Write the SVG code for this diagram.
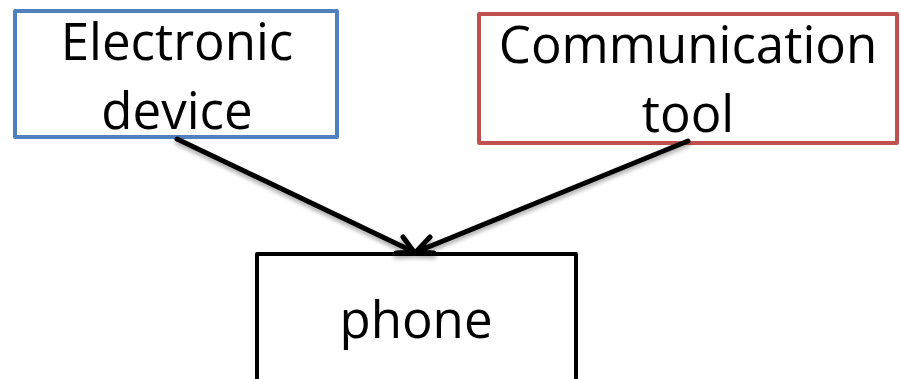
<svg xmlns="http://www.w3.org/2000/svg" width="901" height="379" viewBox="0 0 901 379">
  <style>
    .box { fill: #ffffff; stroke-width: 4; stroke-linejoin: round; }
    .label { font-family: "Open Sans", "Liberation Sans", sans-serif; font-size: 51px; fill: #000000; text-anchor: middle; }
    .link { stroke: #000000; stroke-width: 5; fill: none; stroke-linecap: round; stroke-linejoin: round; }
  </style>
  <defs>
    <filter id="soft" x="-10%" y="-10%" width="120%" height="130%">
      <feGaussianBlur in="SourceAlpha" stdDeviation="2"/>
      <feOffset dx="0" dy="3" result="blur"/>
      <feComponentTransfer><feFuncA type="linear" slope="0.35"/></feComponentTransfer>
      <feMerge><feMergeNode/><feMergeNode in="SourceGraphic"/></feMerge>
    </filter>
  </defs>

  <g id="node-electronic-device">
    <rect class="box" x="15" y="11" width="322" height="126" stroke="#4F81BD"/>
    <text class="label" x="177" y="60">Electronic</text>
    <text class="label" x="177" y="129">device</text>
  </g>

  <g id="node-communication-tool">
    <rect class="box" x="479" y="14" width="418" height="129" stroke="#C0504D"/>
    <text class="label" x="688" y="63">Communication</text>
    <text class="label" x="688" y="132">tool</text>
  </g>

  <g id="node-phone">
    <rect class="box" x="257" y="254" width="319" height="140" stroke="#000000"/>
    <text class="label" x="416" y="338">phone</text>
  </g>

  <g id="connectors" filter="url(#soft)">
    <path class="link" d="M177 139 L414 252 M403 237 L414 252 L396 253"/>
    <path class="link" d="M688 141 L416 252 M430 237 L416 252 L434 253"/>
  </g>
</svg>
